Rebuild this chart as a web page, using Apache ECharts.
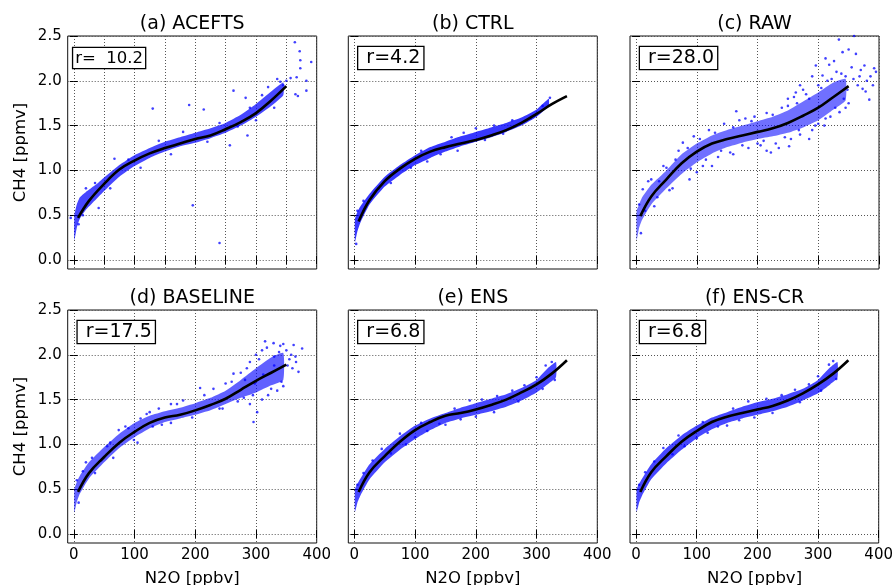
<!DOCTYPE html>
<html><head><meta charset="utf-8">
<script src="https://cdn.jsdelivr.net/npm/echarts@6/dist/echarts.min.js"></script>
<style>html,body{margin:0;padding:0;background:#fff}#c{width:896px;height:585px}</style>
</head><body><div id="c"></div>
<script>
// ---------- data ----------
const panelTitles = ['(a) ACEFTS', '(b) CTRL', '(c) RAW', '(d) BASELINE', '(e) ENS', '(f) ENS-CR'];
const rLabels = ['r=  10.2', ' r=4.2', ' r=28.0', ' r=17.5', ' r=6.8', ' r=6.8'];
const xLabelTicks = [0, 100, 200, 300, 400];
const xTicksFine = [0, 50, 100, 150, 200, 250, 300, 350, 400];
const yTicks = [0, 0.5, 1.0, 1.5, 2.0, 2.5];

// fitted curves (N2O ppbv -> CH4 ppmv)
const curveX = [7, 25, 50, 75, 100, 125, 150, 175, 200, 225, 250, 275, 300, 325, 350];
const curveA = [0.47, 0.66, 0.85, 1.01, 1.11, 1.19, 1.25, 1.30, 1.35, 1.39, 1.46, 1.54, 1.64, 1.78, 1.94];
const curveB = [0.43, 0.67, 0.88, 1.02, 1.13, 1.21, 1.26, 1.30, 1.34, 1.39, 1.45, 1.53, 1.63, 1.74, 1.83];
const curveC = [0.49, 0.71, 0.90, 1.08, 1.21, 1.30, 1.35, 1.39, 1.43, 1.47, 1.53, 1.61, 1.70, 1.82, 1.94];
const curveD = [0.47, 0.68, 0.86, 1.02, 1.14, 1.24, 1.30, 1.33, 1.38, 1.44, 1.51, 1.61, 1.71, 1.80, 1.89];
const curveE = [0.47, 0.69, 0.87, 1.03, 1.16, 1.25, 1.32, 1.35, 1.39, 1.44, 1.50, 1.58, 1.67, 1.79, 1.94];
const curveF = [0.47, 0.69, 0.87, 1.03, 1.15, 1.25, 1.31, 1.35, 1.39, 1.43, 1.49, 1.57, 1.67, 1.79, 1.94];

// dense core of each scatter cloud (x, lower edge, upper edge)
const bandXA = [1, 5, 10, 20, 30, 40, 50, 75, 100, 125, 150, 175, 200, 225, 250, 275, 300, 325, 345];
const bandLoA = [0.22, 0.36, 0.46, 0.56, 0.63, 0.70, 0.77, 0.93, 1.05, 1.14, 1.21, 1.27, 1.31, 1.36, 1.42, 1.50, 1.60, 1.72, 1.84];
const bandHiA = [0.50, 0.62, 0.70, 0.76, 0.81, 0.86, 0.92, 1.06, 1.17, 1.25, 1.32, 1.37, 1.42, 1.47, 1.53, 1.62, 1.74, 1.88, 1.98];

const bandXB = [1, 5, 10, 25, 50, 75, 100, 125, 150, 175, 200, 225, 250, 275, 300, 320];
const bandLoB = [0.20, 0.32, 0.42, 0.62, 0.82, 0.95, 1.06, 1.14, 1.21, 1.27, 1.32, 1.37, 1.43, 1.50, 1.60, 1.72];
const bandHiB = [0.46, 0.54, 0.60, 0.74, 0.93, 1.06, 1.17, 1.26, 1.32, 1.38, 1.43, 1.48, 1.53, 1.59, 1.68, 1.80];

const bandXC = [1, 5, 10, 25, 50, 75, 100, 125, 150, 175, 200, 225, 250, 275, 300, 325, 345];
const bandLoC = [0.22, 0.36, 0.45, 0.62, 0.80, 0.96, 1.09, 1.19, 1.26, 1.31, 1.35, 1.38, 1.42, 1.48, 1.56, 1.68, 1.78];
const bandHiC = [0.55, 0.62, 0.70, 0.84, 1.00, 1.18, 1.30, 1.39, 1.45, 1.50, 1.55, 1.60, 1.67, 1.77, 1.87, 1.98, 2.02];

const bandXD = [1, 5, 10, 25, 50, 75, 100, 125, 150, 175, 200, 225, 250, 275, 300, 325, 345];
const bandLoD = [0.24, 0.36, 0.45, 0.62, 0.80, 0.96, 1.08, 1.18, 1.25, 1.29, 1.33, 1.38, 1.45, 1.52, 1.58, 1.66, 1.72];
const bandHiD = [0.50, 0.58, 0.65, 0.80, 0.97, 1.12, 1.24, 1.32, 1.37, 1.41, 1.46, 1.52, 1.60, 1.72, 1.85, 1.97, 2.02];

const bandXE = [1, 5, 10, 25, 50, 75, 100, 125, 150, 175, 200, 225, 250, 275, 300, 320, 332];
const bandLoE = [0.25, 0.35, 0.43, 0.61, 0.80, 0.94, 1.06, 1.16, 1.24, 1.29, 1.33, 1.37, 1.42, 1.49, 1.58, 1.68, 1.75];
const bandHiE = [0.50, 0.56, 0.62, 0.78, 0.95, 1.09, 1.21, 1.29, 1.35, 1.41, 1.46, 1.51, 1.56, 1.63, 1.72, 1.86, 1.92];

const bandXF = [1, 5, 10, 25, 50, 75, 100, 125, 150, 175, 200, 225, 250, 275, 300, 320, 332];
const bandLoF = [0.25, 0.35, 0.43, 0.61, 0.79, 0.94, 1.07, 1.17, 1.24, 1.29, 1.33, 1.37, 1.42, 1.49, 1.57, 1.67, 1.74];
const bandHiF = [0.50, 0.56, 0.62, 0.78, 0.96, 1.10, 1.21, 1.30, 1.36, 1.42, 1.47, 1.51, 1.56, 1.62, 1.72, 1.86, 1.92];

// individual scattered points around each cloud
const dotsA = [[-5,0.47],[41,0.58],[67,1.13],[130,1.69],[190,1.73],[196,0.61],[214,1.68],[240,0.19],[257,1.28],[263,1.89],[283,1.81],[286,1.39],[335,2.02],[357,2.03],[364,2.43],[365,1.85],[367,2.04],[369,1.83],[372,2.33],[373,2.23],[373,2.14],[383,2.00],[383,1.89],[391,2.21],[345,1.95],[350,2.00],[340,1.99],[330,1.70],[320,1.93],[310,1.84],[300,1.56],[290,1.70],[270,1.49],[240,1.53],[220,1.32],[180,1.43],[160,1.18],[140,1.33],[110,1.03],[90,1.12],[60,0.80],[35,0.86],[20,0.80],[8,0.40],[15,0.50]];
const dotsB = [[93,1.03],[142,1.18],[120,1.10],[160,1.37],[180,1.42],[200,1.47],[230,1.50],[260,1.56],[310,1.72],[322,1.81],[60,0.86],[40,0.80],[15,0.66],[5,0.55],[3,0.18],[110,1.22],[170,1.22],[215,1.34],[245,1.41],[290,1.58]];
const dotsC = [[334,2.46],[359,2.50],[392,2.14],[376,2.17],[362,2.30],[384,1.79],[390,1.95],[373,1.91],[340,2.32],[326,2.22],[165,1.66],[222,1.20],[252,1.27],[285,1.35],[263,1.87],[307,2.06],[296,2.17],[38,0.88],[11,0.79],[77,1.31],[88,0.90],[20,0.88],[30,0.60],[45,1.05],[60,0.80],[70,1.22],[95,1.38],[110,1.05],[120,1.45],[135,1.15],[145,1.52],[155,1.20],[170,1.56],[185,1.25],[195,1.60],[205,1.28],[215,1.64],[230,1.30],[240,1.70],[255,1.35],[265,1.75],[270,1.40],[280,1.85],[290,1.45],[300,1.95],[310,1.50],[315,2.00],[320,1.60],[330,2.10],[335,1.65],[345,2.05],[350,1.75],[355,2.15],[365,1.95],[368,2.05],[380,2.00],[345,1.70],[300,1.52],[275,1.90],[260,1.82],[350,2.35],[318,2.18],[200,1.30],[180,1.58],
  [5,0.62],[8,0.30],[15,0.55],[25,0.90],[35,0.70],[50,1.03],[55,0.78],[65,1.12],[85,1.25],[90,1.02],[105,1.35],[115,1.12],[130,1.42],[140,1.22],[160,1.48],[175,1.28],[190,1.55],[210,1.33],[225,1.62],[245,1.37],[250,1.72],[268,1.45],[285,1.80],[295,1.50],[305,1.92],[312,1.58],[322,2.02],[328,1.70],[338,2.08],[342,1.80],[348,1.90],[358,2.02],[370,2.12],[378,1.88],[386,2.05],[395,2.10],[312,2.25],[290,2.05],[270,1.95],[250,1.80],[235,1.25],[215,1.22],[160,1.18],[125,1.05],[100,0.98]];
const dotsD = [[315,2.15],[329,2.13],[362,2.11],[376,2.07],[370,1.81],[296,1.25],[302,1.36],[110,1.29],[99,1.05],[74,1.16],[208,1.63],[263,1.79],[340,2.10],[350,2.05],[355,1.95],[360,1.85],[345,1.65],[335,1.60],[320,1.55],[310,1.50],[290,1.45],[285,1.85],[275,1.80],[300,2.00],[310,2.05],[250,1.68],[240,1.40],[230,1.62],[180,1.49],[160,1.45],[140,1.40],[130,1.20],[120,1.34],[90,1.18],[60,1.02],[45,0.82],[30,0.85],[15,0.70],[5,0.60],[330,1.98],[365,1.98],[280,1.52],[160,1.24],
  [8,0.35],[20,0.80],[35,0.68],[55,0.98],[65,0.85],[85,1.20],[105,1.02],[125,1.36],[145,1.22],[170,1.45],[195,1.30],[215,1.55],[245,1.40],[260,1.70],[270,1.48],[290,1.92],[295,1.55],[305,1.95],[318,2.08],[325,1.62],[338,2.03],[342,1.70],[352,1.88],[358,2.00],[366,1.92],[345,2.12],[330,1.88],[312,1.78],[298,1.68],[282,1.72]];
const dotsE = [[140,1.23],[120,1.15],[100,1.08],[85,1.00],[60,0.90],[45,0.95],[30,0.82],[15,0.68],[5,0.55],[165,1.40],[190,1.49],[210,1.50],[235,1.54],[260,1.60],[280,1.66],[300,1.75],[315,1.88],[325,1.92],[330,1.72],[310,1.62],[270,1.48],[230,1.36],[200,1.31],[175,1.28],[150,1.22],[110,1.24],[75,1.12]];
const dotsF = [[135,1.20],[118,1.13],[100,1.07],[80,0.98],[60,0.89],[45,0.96],[30,0.81],[15,0.69],[5,0.55],[160,1.40],[185,1.48],[215,1.51],[240,1.55],[262,1.61],[285,1.67],[300,1.76],[318,1.89],[325,1.93],[330,1.73],[305,1.60],[270,1.47],[225,1.35],[195,1.30],[170,1.27],[150,1.21],[110,1.25],[70,1.10]];

// ---------- layout ----------
const FONT = 'DejaVu Sans';
const lefts = [67.7, 348.3, 630];
const tops = [36, 310];
const PW = 249, PH = 233;

const panels = [
  {curve: curveA, bx: bandXA, lo: bandLoA, hi: bandHiA, dots: dotsA, xt: xTicksFine, op: 0.72},
  {curve: curveB, bx: bandXB, lo: bandLoB, hi: bandHiB, dots: dotsB, xt: xLabelTicks, op: 0.78},
  {curve: curveC, bx: bandXC, lo: bandLoC, hi: bandHiC, dots: dotsC, xt: xLabelTicks, op: 0.56},
  {curve: curveD, bx: bandXD, lo: bandLoD, hi: bandHiD, dots: dotsD, xt: xLabelTicks, op: 0.62},
  {curve: curveE, bx: bandXE, lo: bandLoE, hi: bandHiE, dots: dotsE, xt: xLabelTicks, op: 0.72},
  {curve: curveF, bx: bandXF, lo: bandLoF, hi: bandHiF, dots: dotsF, xt: xLabelTicks, op: 0.72}
];

const grid = [], xAxis = [], yAxis = [], series = [], graphic = [];
const gridLine = {show: true, lineStyle: {color: '#555', width: 1, type: [1, 2]}};

panels.forEach((p, i) => {
  const row = Math.floor(i / 3), col = i % 3;
  const left = lefts[col], top = tops[row];
  grid.push({left: left, top: top, width: PW, height: PH, show: true,
    borderColor: '#111', borderWidth: 1, backgroundColor: 'transparent'});
  const tickStyle = {show: true, inside: true, length: 4, lineStyle: {color: '#000', width: 1}};
  xAxis.push({
    gridIndex: i, type: 'value', min: -10, max: 400, position: 'bottom',
    axisLine: {show: false},
    axisTick: Object.assign({customValues: p.xt}, tickStyle),
    axisLabel: {show: row === 1, customValues: xLabelTicks, fontFamily: FONT, fontSize: 15, color: '#000', margin: 5},
    splitLine: gridLine
  });
  xAxis.push({
    gridIndex: i, type: 'value', min: -10, max: 400, position: 'top',
    axisLine: {show: false},
    axisTick: Object.assign({customValues: p.xt}, tickStyle),
    axisLabel: {show: false}, splitLine: {show: false}
  });
  yAxis.push({
    gridIndex: i, type: 'value', min: -0.1, max: 2.5, position: 'left',
    axisLine: {show: false},
    axisTick: Object.assign({customValues: yTicks}, tickStyle),
    axisLabel: {show: col === 0, customValues: yTicks, formatter: v => Number(v).toFixed(1),
      fontFamily: FONT, fontSize: 15, color: '#000', margin: 6},
    splitLine: gridLine
  });
  yAxis.push({
    gridIndex: i, type: 'value', min: -0.1, max: 2.5, position: 'right',
    axisLine: {show: false},
    axisTick: Object.assign({customValues: yTicks}, tickStyle),
    axisLabel: {show: false}, splitLine: {show: false}
  });
  const xi = i * 2, yi = i * 2;
  series.push({
    type: 'custom', xAxisIndex: xi, yAxisIndex: yi, silent: true,
    data: [[p.bx[0], p.lo[0]]],
    renderItem: (params, api) => {
      const pts = [];
      for (let k = 0; k < p.bx.length; k++) pts.push(api.coord([p.bx[k], p.hi[k]]));
      for (let k = p.bx.length - 1; k >= 0; k--) pts.push(api.coord([p.bx[k], p.lo[k]]));
      return {type: 'polygon', shape: {points: pts, smooth: 0.15},
        style: {fill: '#0000ff', opacity: p.op}};
    },
    z: 2
  });
  series.push({
    type: 'scatter', xAxisIndex: xi, yAxisIndex: yi, silent: true,
    data: p.dots, symbolSize: 2.6,
    itemStyle: {color: '#0000ff', opacity: 0.75}, z: 3
  });
  series.push({
    type: 'line', xAxisIndex: xi, yAxisIndex: yi, silent: true,
    data: curveX.map((x, k) => [x, p.curve[k]]), smooth: 0.4,
    showSymbol: false, symbol: 'none',
    lineStyle: {color: '#000', width: 2.6}, z: 4
  });

  // panel title
  graphic.push({type: 'text', x: left + PW / 2, y: top - 11.5, silent: true,
    style: {text: panelTitles[i], font: '19px "DejaVu Sans"', fill: '#000', align: 'center', verticalAlign: 'middle'}});
  // r box
  const isA = i === 0;
  graphic.push({type: 'text', x: left + (isA ? 5.5 : 10), y: top + (isA ? 12 : 11), silent: true, z: 10,
    style: {text: rLabels[i], font: (isA ? '16.5px' : '19px') + ' "DejaVu Sans"', fill: '#000',
      align: 'left', verticalAlign: 'top', backgroundColor: '#fff', borderColor: '#000', borderWidth: 1.3,
      padding: isA ? [2, 2, 1, 2] : [2, 3, 1, 2]}});
  if (col === 0) {
    graphic.push({type: 'text', x: 21, y: top + PH / 2, rotation: Math.PI / 2, silent: true,
      style: {text: 'CH4 [ppmv]', font: '16.5px "DejaVu Sans"', fill: '#000', align: 'center', verticalAlign: 'middle'}});
  }
  if (row === 1) {
    graphic.push({type: 'text', x: left + PW / 2, y: 579, silent: true,
      style: {text: 'N2O [ppbv]', font: '16.5px "DejaVu Sans"', fill: '#000', align: 'center', verticalAlign: 'middle'}});
  }
});

const chart = echarts.init(document.getElementById('c'), null, {renderer: 'canvas'});
chart.setOption({
  animation: false,
  backgroundColor: '#fff',
  grid, xAxis, yAxis, series, graphic
});
</script>
</body></html>
